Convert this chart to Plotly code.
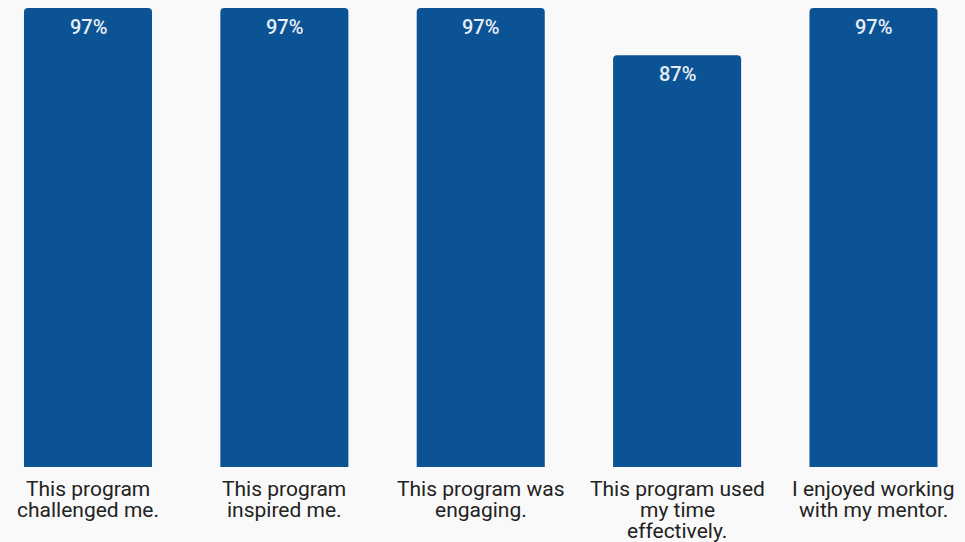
import plotly.graph_objects as go

categories = [
    "This program challenged me.",
    "This program inspired me.",
    "This program was engaging.",
    "This program used my time effectively.",
    "I enjoyed working with my mentor.",
]
label_lines = [
    ["This program", "challenged me."],
    ["This program", "inspired me."],
    ["This program was", "engaging."],
    ["This program used", "my time", "effectively."],
    ["I enjoyed working", "with my mentor."],
]
values = [97, 97, 97, 87, 97]

BAR = "#0b5394"
BG = "#f9f9f9"
FONT = "Roboto"

fig = go.Figure(
    go.Bar(
        x=categories,
        y=values,
        marker=dict(color=BAR, cornerradius=4, line=dict(width=0)),
        hoverinfo="skip",
    )
)

annotations = []
for c, v, lines in zip(categories, values, label_lines):
    annotations.append(dict(
        x=c, y=v, xref="x", yref="y", text=f"{v}%", showarrow=False,
        yanchor="top", yshift=-5,
        font=dict(family=FONT, size=20, color="#e8eef6", weight=500),
    ))
    for i, line in enumerate(lines):
        annotations.append(dict(
            x=c, y=0, xref="x", yref="y", text=line, showarrow=False,
            yanchor="top", yshift=-8 - 21 * i,
            font=dict(family=FONT, size=21, color="#222222"),
        ))

fig.update_layout(
    width=965, height=542,
    margin=dict(l=0, r=0, t=0, b=75),
    paper_bgcolor=BG, plot_bgcolor=BG,
    bargap=0.348,
    showlegend=False,
    annotations=annotations,
    xaxis=dict(range=[-0.4481, 4.4660], showticklabels=False, showgrid=False,
               zeroline=False, showline=False, ticks=""),
    yaxis=dict(range=[0, 98.69], visible=False, showgrid=False, zeroline=False),
)

fig.write_html(
    "out.html",
    config={"displayModeBar": False},
    post_script="document.body.style.margin='0';document.body.style.background='#f9f9f9';",
)
